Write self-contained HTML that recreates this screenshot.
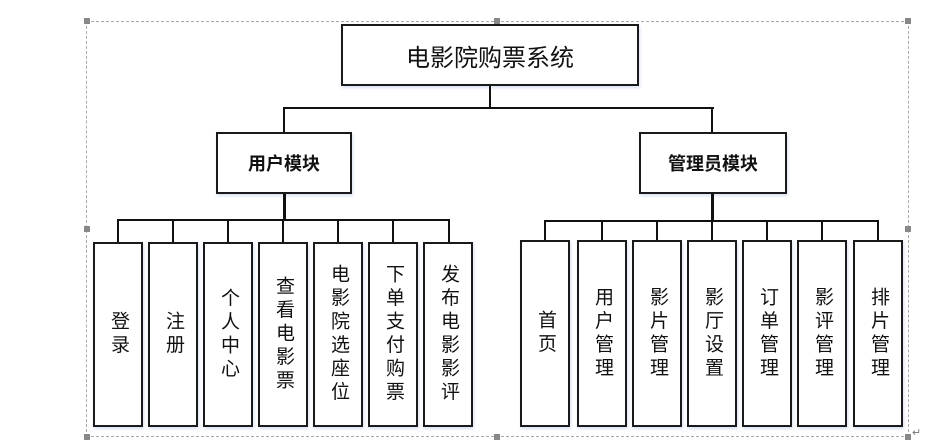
<!DOCTYPE html>
<html><head><meta charset="utf-8"><style>
body{margin:0;width:929px;height:442px;background:#fff;position:relative;overflow:hidden;font-family:"Liberation Sans","Noto Sans CJK SC",sans-serif;}
.b{position:absolute;border:2px solid #1a1a1a;box-sizing:border-box;background:#fff;display:flex;align-items:center;justify-content:center;color:#111;box-shadow:1px 2px 3px rgba(150,170,220,0.35);}
.v{writing-mode:vertical-rl;text-orientation:upright;font-size:19px;line-height:24px;letter-spacing:4.5px;}
.l{position:absolute;background:#111;}
.h{position:absolute;width:6px;height:6px;background:#888;}
</style></head><body>
<div style="position:absolute;left:86px;top:21px;width:823px;height:416px;border:1px dashed #aaa;box-sizing:border-box"></div>
<div class="h" style="left:84px;top:18px"></div><div class="h" style="left:494px;top:18px"></div><div class="h" style="left:905px;top:18px"></div>
<div class="h" style="left:84px;top:226px"></div><div class="h" style="left:905px;top:226px"></div>
<div class="h" style="left:84px;top:434px"></div><div class="h" style="left:494px;top:434px"></div><div class="h" style="left:905px;top:434px"></div>
<div style="position:absolute;left:912px;top:426px;font-size:11px;color:#777">↵</div>

<div class="b" style="left:341px;top:24px;width:298px;height:62px;font-size:24px;">电影院购票系统</div>
<div class="l" style="left:489px;top:86px;width:2px;height:23px"></div>
<div class="l" style="left:283px;top:107px;width:431px;height:2px"></div>
<div class="l" style="left:283px;top:107px;width:2px;height:25px"></div>
<div class="l" style="left:711px;top:107px;width:2px;height:25px"></div>

<div class="b" style="left:216px;top:132px;width:136px;height:62px;font-size:18px;font-weight:bold;">用户模块</div>
<div class="b" style="left:639px;top:132px;width:148px;height:62px;font-size:18px;font-weight:bold;">管理员模块</div>

<div class="l" style="left:283px;top:194px;width:3px;height:27px"></div>
<div class="l" style="left:117px;top:219px;width:333px;height:2px"></div>
<div class="l" style="left:711px;top:194px;width:3px;height:28px"></div>
<div class="l" style="left:544px;top:220px;width:335px;height:2px"></div>

<div class="l" style="left:117px;top:219px;width:2px;height:24px"></div>
<div class="l" style="left:172px;top:219px;width:2px;height:24px"></div>
<div class="l" style="left:227px;top:219px;width:2px;height:24px"></div>
<div class="l" style="left:282px;top:219px;width:2px;height:24px"></div>
<div class="l" style="left:337px;top:219px;width:2px;height:24px"></div>
<div class="l" style="left:392px;top:219px;width:2px;height:24px"></div>
<div class="l" style="left:448px;top:219px;width:2px;height:24px"></div>

<div class="b v" style="left:93px;top:242px;width:50px;height:185px">登录</div>
<div class="b v" style="left:148px;top:242px;width:50px;height:185px">注册</div>
<div class="b v" style="left:203px;top:242px;width:50px;height:185px">个人中心</div>
<div class="b v" style="left:258px;top:242px;width:50px;height:185px">查看电影票</div>
<div class="b v" style="left:313px;top:242px;width:50px;height:185px">电影院选座位</div>
<div class="b v" style="left:368px;top:242px;width:50px;height:185px">下单支付购票</div>
<div class="b v" style="left:423px;top:242px;width:50px;height:185px">发布电影影评</div>

<div class="l" style="left:544px;top:220px;width:2px;height:21px"></div>
<div class="l" style="left:601px;top:220px;width:2px;height:21px"></div>
<div class="l" style="left:656px;top:220px;width:2px;height:21px"></div>
<div class="l" style="left:711px;top:220px;width:2px;height:21px"></div>
<div class="l" style="left:766px;top:220px;width:2px;height:21px"></div>
<div class="l" style="left:821px;top:220px;width:2px;height:21px"></div>
<div class="l" style="left:877px;top:220px;width:2px;height:21px"></div>

<div class="b v" style="left:520px;top:240px;width:50px;height:187px">首页</div>
<div class="b v" style="left:577px;top:240px;width:50px;height:187px">用户管理</div>
<div class="b v" style="left:632px;top:240px;width:50px;height:187px">影片管理</div>
<div class="b v" style="left:687px;top:240px;width:50px;height:187px">影厅设置</div>
<div class="b v" style="left:742px;top:240px;width:50px;height:187px">订单管理</div>
<div class="b v" style="left:797px;top:240px;width:50px;height:187px">影评管理</div>
<div class="b v" style="left:853px;top:240px;width:50px;height:187px">排片管理</div>
</body></html>
